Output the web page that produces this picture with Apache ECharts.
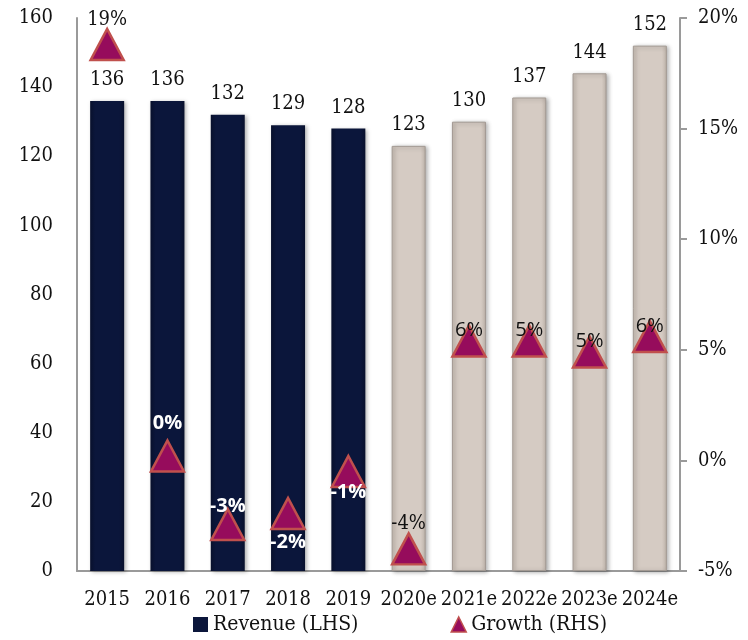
<!DOCTYPE html>
<html><head><meta charset="utf-8">
<script src="https://cdn.jsdelivr.net/npm/echarts@6/dist/echarts.min.js"></script>
<style>html,body{margin:0;padding:0;background:#fff}#c{width:748px;height:640px}</style>
</head><body><div id="c"></div>
<script>
var categories = ['2015','2016','2017','2018','2019','2020e','2021e','2022e','2023e','2024e'];
var revenue = [136,136,132,129,128,123,130,137,144,152];
var growth = [18.8,0.2,-2.9,-2.4,-0.5,-4.0,5.4,5.4,4.9,5.6];
var growthLabels = ['19%','0%','-3%','-2%','-1%','-4%','6%','5%','5%','6%'];
var leftTicks = [0,160,20];
var rightTicks = [-5,20,5];

var SERIF = '"DejaVu Serif Condensed", "DejaVu Serif", serif';
var SANS = '"Open Sans", sans-serif';
var NAVY = '#0b163b';
var BEIGE = '#d5cbc3';
var FS = 20;

// label styling per point (style only)
var gPos = ['top','top','top','bottom','bottom','top','top','top','top','top'];
var gDist = [-2,6,-8,2,-6,-2,-16,-16,-16,-16];
var gWhite = [false,true,true,true,true,false,false,false,false,false];
var gSerif = [true,false,false,false,false,true,false,false,false,false];

var barData = revenue.map(function(v,i){
  var forecast = i >= 5;
  return {value: v, itemStyle: forecast ? {
    color: {type:'linear',x:0,y:0,x2:1,y2:0,colorStops:[{offset:0,color:'#c5bab1'},{offset:0.15,color:BEIGE},{offset:0.85,color:BEIGE},{offset:1,color:'#c0b5ac'}]},
    borderColor:'#a39a93', borderWidth:1
  } : {
    color: {type:'linear',x:0,y:0,x2:1,y2:0,colorStops:[{offset:0,color:'#08102c'},{offset:0.15,color:NAVY},{offset:0.85,color:NAVY},{offset:1,color:'#08102c'}]}
  }};
});
var growthData = growth.map(function(v,i){
  return {value: v, label: {
    position: gPos[i], distance: gDist[i],
    color: gWhite[i] ? '#ffffff' : '#111111',
    fontWeight: gWhite[i] ? 'bold' : 'normal',
    fontFamily: gSerif[i] ? SERIF : SANS,
    fontSize: gSerif[i] ? FS : 20,
    formatter: growthLabels[i]
  }};
});

var chart = echarts.init(document.getElementById('c'), null, {renderer:'canvas'});
chart.setOption({
  animation:false,
  backgroundColor:'#ffffff',
  grid:{left:77,right:68,top:18,bottom:69,containLabel:false},
  legend:{
    bottom:0, left:188, itemGap:92, itemWidth:15, itemHeight:15,
    textStyle:{fontFamily:SERIF,fontSize:21,color:'#111'},
    data:[{name:'Revenue (LHS)',icon:'rect',itemStyle:{color:NAVY}},{name:'Growth (RHS)',icon:'triangle',itemStyle:{color:'#960c5c',borderColor:'#c0504d',borderWidth:1.5}}]
  },
  xAxis:{
    type:'category', data:categories,
    axisLine:{lineStyle:{color:'#9a9a9a',width:2}},
    axisTick:{show:false},
    axisLabel:{fontFamily:SERIF,fontSize:FS,color:'#111',margin:19,interval:0}
  },
  yAxis:[{
    type:'value', min:leftTicks[0], max:leftTicks[1], interval:leftTicks[2],
    axisLine:{show:true,lineStyle:{color:'#9a9a9a',width:2}},
    axisTick:{show:false},
    splitLine:{show:false},
    axisLabel:{fontFamily:SERIF,fontSize:FS,color:'#111',margin:24}
  },{
    type:'value', min:rightTicks[0], max:rightTicks[1], interval:rightTicks[2],
    position:'right',
    axisLine:{show:true,lineStyle:{color:'#9a9a9a',width:2}},
    axisTick:{show:true,length:7,lineStyle:{color:'#9a9a9a',width:2}},
    splitLine:{show:false},
    axisLabel:{fontFamily:SERIF,fontSize:FS,color:'#111',margin:18,formatter:'{value}%'}
  }],
  series:[{
    name:'Revenue (LHS)', type:'bar', yAxisIndex:0, barWidth:34,
    data:barData,
    itemStyle:{color:NAVY, shadowColor:'rgba(0,0,0,0.3)',shadowBlur:4,shadowOffsetX:2,shadowOffsetY:1},
    label:{show:true,position:'top',distance:11,fontFamily:SERIF,fontSize:FS,color:'#111'}
  },{
    name:'Growth (RHS)', type:'scatter', yAxisIndex:1,
    symbol:'triangle', symbolSize:[33,31],
    itemStyle:{color:'#960c5c',borderColor:'#c0504d',borderWidth:2.5,opacity:1},
    label:{show:true},
    data:growthData, z:5
  }]
});
</script>
</body></html>
